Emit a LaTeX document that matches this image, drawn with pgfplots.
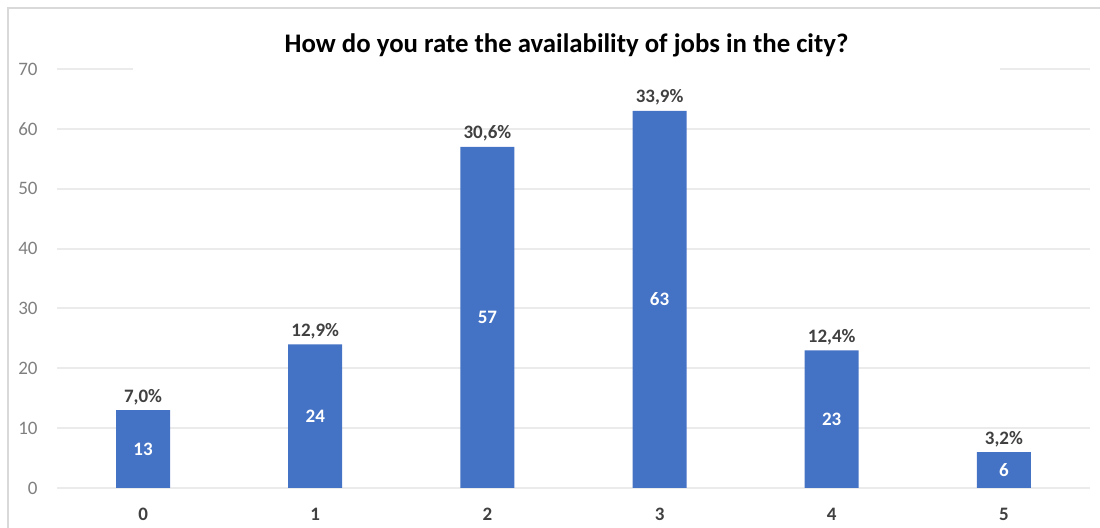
\documentclass[border=0pt]{standalone}
\usepackage{fontspec}
\setmainfont{Carlito}
\usepackage{pgfplots}
\usepackage{pgfplotstable}
\pgfplotsset{compat=1.18}
\definecolor{barblue}{HTML}{4472C4}
\definecolor{gridgray}{HTML}{EBEBEB}
\definecolor{labgray}{HTML}{404040}
\definecolor{tickgray}{HTML}{7F7F7F}
\definecolor{bordergray}{HTML}{D9D9D9}
\pgfplotstableread{
x n pct
0 13 7,0\%
1 24 12,9\%
2 57 30,6\%
3 63 33,9\%
4 23 12,4\%
5 6 3,2\%
}\datatable
\begin{document}
\begin{tikzpicture}
\path[use as bounding box] (0,0) rectangle (550pt,264pt);
\draw[bordergray, line width=1.2pt] (4pt,0) -- (4pt,260pt) -- (550pt,260pt);
\begin{axis}[
  at={(28.5pt,20pt)}, anchor=south west,
  scale only axis, width=516.5pt, height=209.5pt,
  xmin=-0.5, xmax=5.5, ymin=0, ymax=70,
  axis line style={draw=none},
  ymajorgrids, grid style={gridgray, line width=1pt},
  ytick={0,10,...,70}, xtick={0,1,2,3,4,5},
  major tick length=0pt,
  clip=false,
  /pgf/number format/assume math mode=true,
  yticklabel style={font=\fontsize{9.5}{10}\selectfont, color=tickgray, anchor=east, inner sep=0pt, xshift=-9.5pt},
  xticklabel style={font=\bfseries\fontsize{9.5}{10}\selectfont, color=labgray, anchor=center, inner sep=0pt, yshift=-13pt},
]
\addplot[ybar, bar width=27pt, fill=barblue, draw=none,
  point meta=explicit symbolic,
  nodes near coords,
  every node near coord/.append style={font=\bfseries\fontsize{9.5}{10}\selectfont, color=labgray, anchor=south, inner sep=0pt, yshift=2.5pt}
] table[x=x, y=n, meta=pct] {\datatable};
\addplot[draw=none, mark=none, forget plot,
  point meta=explicit symbolic,
  nodes near coords,
  every node near coord/.append style={font=\bfseries\fontsize{9.5}{10}\selectfont, color=white, anchor=center, inner sep=0pt}
] table[x=x, y expr=\thisrow{n}/2, meta=n] {\datatable};
\end{axis}
\node[fill=white, minimum width=433.5pt, minimum height=26pt, inner sep=0pt, font=\bfseries\fontsize{13.4}{15}\selectfont] at (283.25pt,241.5pt) {How do you rate the availability of jobs in the city?};
\end{tikzpicture}
\end{document}
